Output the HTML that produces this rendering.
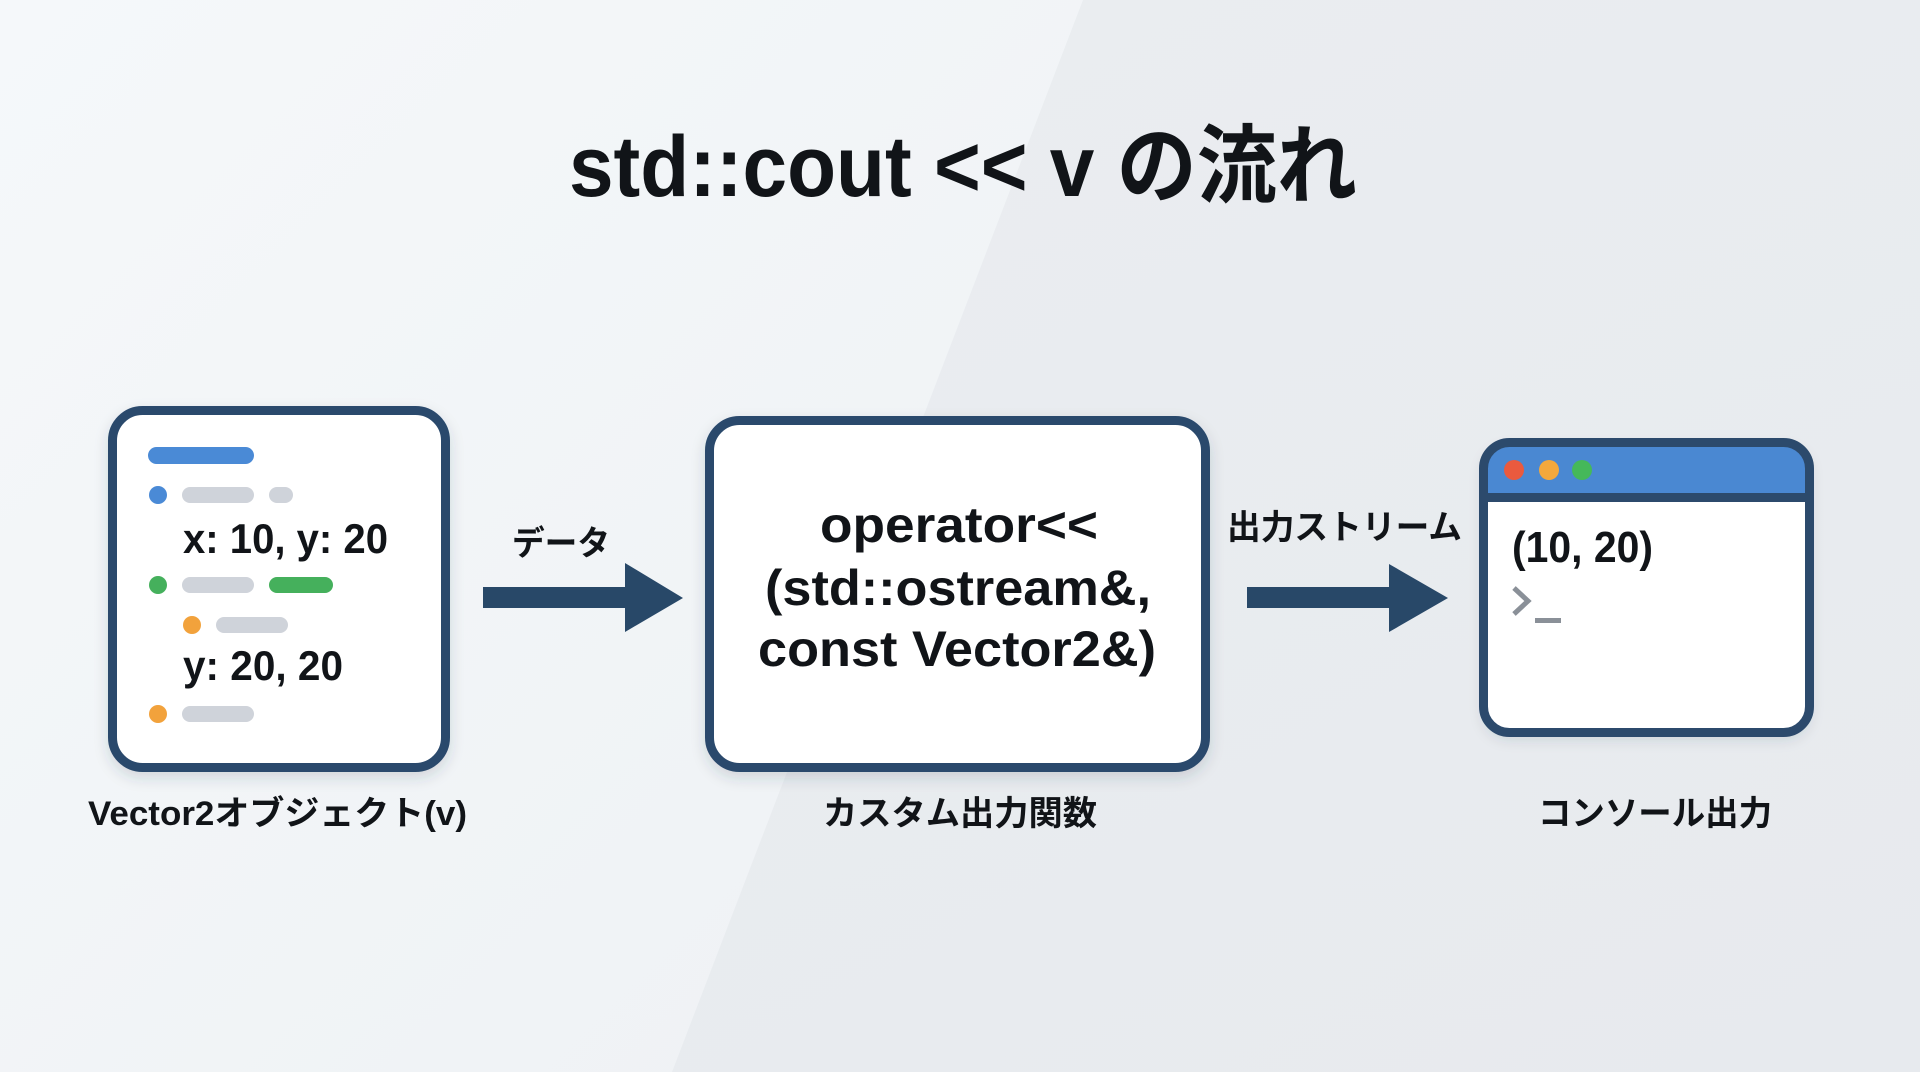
<!DOCTYPE html>
<html>
<head>
<meta charset="utf-8">
<style>
  html,body{margin:0;padding:0;width:1920px;height:1072px;overflow:hidden;background:#eef1f4;}
  svg{display:block;}
  text{font-family:"Liberation Sans","Noto Sans CJK JP",sans-serif;font-weight:bold;fill:#111418;}
</style>
</head>
<body>
<svg width="1920" height="1072" viewBox="0 0 1920 1072" xmlns="http://www.w3.org/2000/svg">
  <defs>
    <linearGradient id="bgL" x1="0" y1="0" x2="1" y2="1">
      <stop offset="0" stop-color="#f5f8fa"/>
      <stop offset="1" stop-color="#eef1f4"/>
    </linearGradient>
    <linearGradient id="bgR" x1="0" y1="0" x2="1" y2="1">
      <stop offset="0" stop-color="#ebeef1"/>
      <stop offset="1" stop-color="#e7eaee"/>
    </linearGradient>
    <filter id="sh" x="-10%" y="-10%" width="120%" height="125%">
      <feDropShadow dx="0" dy="6" stdDeviation="7" flood-color="#2a3b50" flood-opacity="0.16"/>
    </filter>
    <clipPath id="c3">
      <rect x="1483.5" y="442.5" width="326" height="290" rx="26"/>
    </clipPath>
  </defs>

  <!-- background -->
  <rect x="0" y="0" width="1920" height="1072" fill="url(#bgR)"/>
  <polygon points="0,0 1083,0 672,1072 0,1072" fill="url(#bgL)"/>

  <!-- title -->
  <text x="569" y="196" font-size="86" textLength="788" lengthAdjust="spacingAndGlyphs">std::cout &lt;&lt; v の流れ</text>

  <!-- Box 1 -->
  <rect x="112.5" y="410.5" width="333" height="357" rx="30" fill="#ffffff" stroke="#2c4a6c" stroke-width="9" filter="url(#sh)"/>
  <rect x="148" y="447" width="106" height="17" rx="8.5" fill="#4a8ad6"/>
  <circle cx="158" cy="495" r="9" fill="#4a8ad6"/>
  <rect x="182" y="487" width="72" height="16" rx="8" fill="#cfd3da"/>
  <rect x="269" y="487" width="24" height="16" rx="8" fill="#cfd3da"/>
  <text x="183" y="553" font-size="42" textLength="205" lengthAdjust="spacingAndGlyphs">x: 10, y: 20</text>
  <circle cx="158" cy="585" r="9" fill="#45b05c"/>
  <rect x="182" y="577" width="72" height="16" rx="8" fill="#cfd3da"/>
  <rect x="269" y="577" width="64" height="16" rx="8" fill="#45b05c"/>
  <circle cx="192" cy="625" r="9" fill="#f2a23c"/>
  <rect x="216" y="617" width="72" height="16" rx="8" fill="#cfd3da"/>
  <text x="183" y="680" font-size="42" textLength="160" lengthAdjust="spacingAndGlyphs">y: 20, 20</text>
  <circle cx="158" cy="714" r="9" fill="#f2a23c"/>
  <rect x="182" y="706" width="72" height="16" rx="8" fill="#cfd3da"/>
  <text x="88" y="825" font-size="34" textLength="379" lengthAdjust="spacingAndGlyphs">Vector2オブジェクト(v)</text>

  <!-- Arrow 1 -->
  <text x="512" y="555" font-size="34" textLength="98" lengthAdjust="spacingAndGlyphs">データ</text>
  <polygon points="483,587 625,587 625,563 683,598 625,632 625,608 483,608" fill="#284868"/>

  <!-- Box 2 -->
  <rect x="709.5" y="420.5" width="496" height="347" rx="30" fill="#ffffff" stroke="#2c4a6c" stroke-width="9" filter="url(#sh)"/>
  <text x="820" y="542" font-size="50" textLength="278" lengthAdjust="spacingAndGlyphs">operator&lt;&lt;</text>
  <text x="765" y="605" font-size="50" textLength="386" lengthAdjust="spacingAndGlyphs">(std::ostream&amp;,</text>
  <text x="758" y="666" font-size="50" textLength="398" lengthAdjust="spacingAndGlyphs">const Vector2&amp;)</text>
  <text x="823" y="825" font-size="34" textLength="274" lengthAdjust="spacingAndGlyphs">カスタム出力関数</text>

  <!-- Arrow 2 -->
  <text x="1227" y="539" font-size="34" textLength="235" lengthAdjust="spacingAndGlyphs">出力ストリーム</text>
  <polygon points="1247,587 1389,587 1389,564 1448,598 1389,632 1389,608 1247,608" fill="#284868"/>

  <!-- Box 3 -->
  <rect x="1483.5" y="442.5" width="326" height="290" rx="26" fill="#ffffff" filter="url(#sh)"/>
  <g clip-path="url(#c3)">
    <rect x="1480" y="440" width="335" height="53" fill="#4a88d2"/>
    <rect x="1480" y="493" width="335" height="9" fill="#2c4a6c"/>
  </g>
  <rect x="1483.5" y="442.5" width="326" height="290" rx="26" fill="none" stroke="#2c4a6c" stroke-width="9"/>
  <circle cx="1514" cy="470" r="10" fill="#ea5a3e"/>
  <circle cx="1549" cy="470" r="10" fill="#f3a83c"/>
  <circle cx="1582" cy="470" r="10" fill="#45b85a"/>
  <text x="1512" y="562" font-size="44" textLength="141" lengthAdjust="spacingAndGlyphs">(10, 20)</text>
  <polyline points="1514,588 1528,601 1514,614" fill="none" stroke="#8a9098" stroke-width="5"/>
  <rect x="1535" y="618" width="26" height="5" fill="#8a9098"/>
  <text x="1538" y="825" font-size="34" textLength="234" lengthAdjust="spacingAndGlyphs">コンソール出力</text>
</svg>
</body>
</html>
